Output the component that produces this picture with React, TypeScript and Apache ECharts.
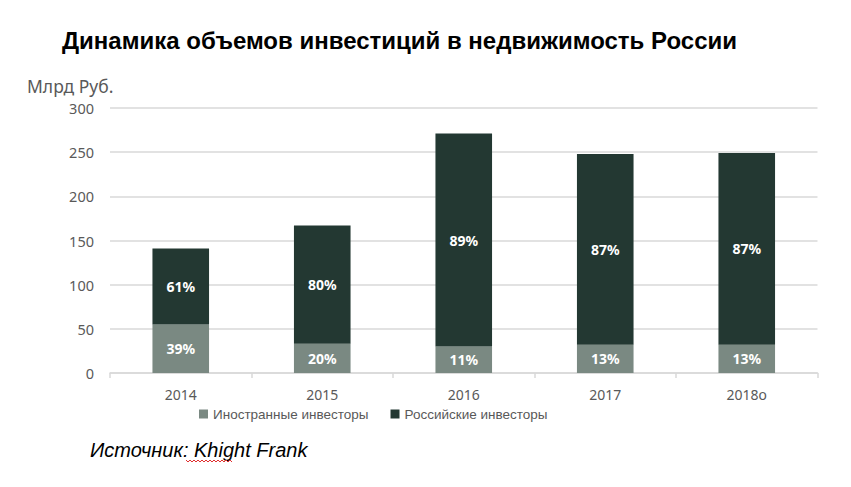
import React, { useEffect, useRef } from "react";
import * as echarts from "echarts";

const categories = ["2014", "2015", "2016", "2017", "2018о"];
const foreignValues = [55, 33, 30, 32, 32];
const russianValues = [86, 134, 241, 216, 217];
const foreignShares = ["39%", "20%", "11%", "13%", "13%"];
const russianShares = ["61%", "80%", "89%", "87%", "87%"];
const yTicks = [0, 50, 100, 150, 200, 250, 300];

const DARK = "#233832";
const GREY = "#7a8982";
const AXIS_FONT = "'Noto Sans', 'Open Sans', sans-serif";
const ARIAL = "'Liberation Sans', Arial, sans-serif";

function squiggle(x0: number, x1: number, y: number): number[][] {
  const pts: number[][] = [];
  let up = true;
  for (let x = x0; x <= x1; x += 2) {
    pts.push([x, up ? y : y + 2]);
    up = !up;
  }
  return pts;
}

export default function App() {
  const ref = useRef<HTMLDivElement>(null);
  useEffect(() => {
    if (!ref.current) return;
    const chart = echarts.init(ref.current, null, { renderer: "svg" });
    chart.setOption({
      animation: false,
      backgroundColor: "#ffffff",
      grid: { left: 110, right: 33.5, top: 108, bottom: 114, containLabel: false },
      title: {
        text: "Динамика объемов инвестиций в недвижимость России",
        left: 57,
        top: 23,
        textStyle: {
          fontFamily: ARIAL,
          fontWeight: "bold",
          fontSize: 24,
          color: "#000000",
        },
      },
      legend: {
        left: 194,
        top: 402,
        itemWidth: 9,
        itemHeight: 9,
        itemGap: 22,
        icon: "rect",
        textStyle: { fontFamily: ARIAL, fontSize: 13.5, color: "#595959" },
        data: ["Иностранные инвесторы", "Российские инвесторы"],
      },
      xAxis: {
        type: "category",
        data: categories,
        axisLine: { lineStyle: { color: "#d9d9d9", width: 1.5 } },
        axisTick: { show: true, length: 5, lineStyle: { color: "#d9d9d9", width: 1.5 } },
        axisLabel: { fontFamily: AXIS_FONT, fontSize: 14, color: "#595959", margin: 14 },
      },
      yAxis: {
        type: "value",
        min: yTicks[0],
        max: yTicks[yTicks.length - 1],
        interval: 50,
        axisLine: { show: false },
        axisTick: { show: false },
        axisLabel: { fontFamily: AXIS_FONT, fontSize: 14.5, color: "#595959", margin: 16 },
        splitLine: { lineStyle: { color: "#d9d9d9", width: 1.5 } },
      },
      series: [
        {
          name: "Иностранные инвесторы",
          type: "bar",
          stack: "total",
          barWidth: "40%",
          itemStyle: { color: GREY },
          label: {
            show: true,
            position: "inside",
            formatter: (p: any) => foreignShares[p.dataIndex],
            color: "#ffffff",
            fontWeight: "bold",
            fontSize: 14,
            fontFamily: AXIS_FONT,
          },
          data: foreignValues,
        },
        {
          name: "Российские инвесторы",
          type: "bar",
          stack: "total",
          barWidth: "40%",
          itemStyle: { color: DARK },
          label: {
            show: true,
            position: "inside",
            formatter: (p: any) => russianShares[p.dataIndex],
            color: "#ffffff",
            fontWeight: "bold",
            fontSize: 14,
            fontFamily: AXIS_FONT,
          },
          data: russianValues,
        },
      ],
      graphic: [
        {
          type: "text",
          left: 27,
          top: 77,
          style: {
            text: "Млрд Руб.",
            fontFamily: AXIS_FONT,
            fontSize: 17.5,
            fill: "#595959",
          },
        },
        {
          type: "text",
          left: 90,
          top: 440,
          style: {
            text: "Источник: Khight Frank",
            fontFamily: ARIAL,
            fontStyle: "italic",
            fontSize: 20,
            fill: "#000000",
          },
        },
        {
          type: "polyline",
          shape: { points: squiggle(186, 232, 460) },
          style: { stroke: "#e03030", lineWidth: 1, fill: null },
        },
      ],
    });
    return () => chart.dispose();
  }, []);
  return (
    <div
      ref={ref}
      style={{ position: "absolute", left: 0, top: 0, width: 851, height: 487 }}
    />
  );
}
